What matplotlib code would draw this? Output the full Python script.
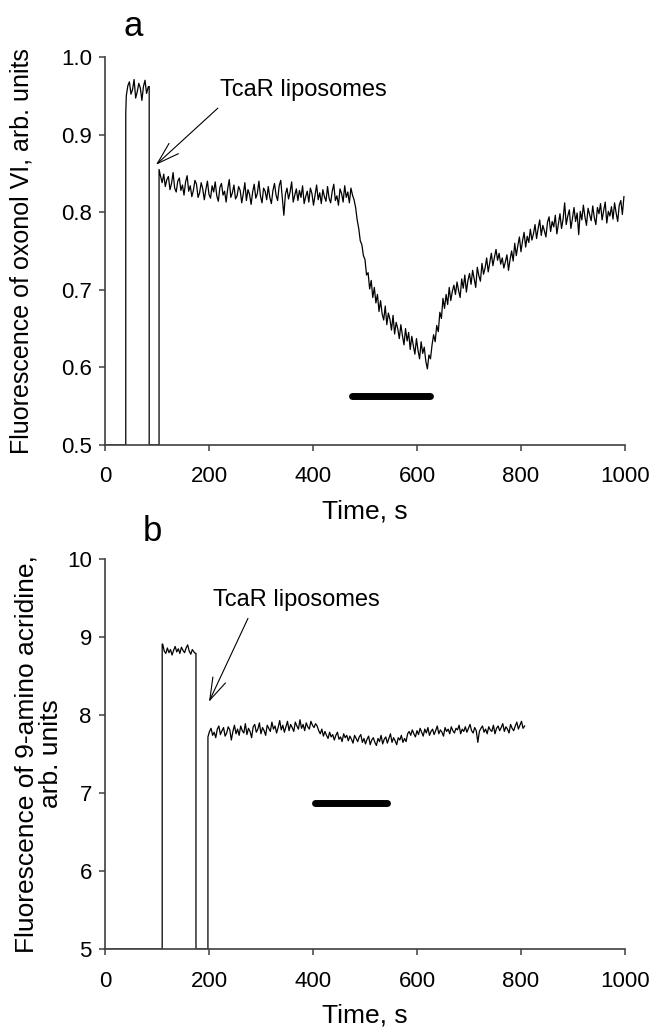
import numpy as np
import matplotlib
matplotlib.use("Agg")
import matplotlib.pyplot as plt

plt.rcParams['font.family'] = ['Liberation Sans', 'DejaVu Sans']

# ---- panel a: oxonol VI ----
# first (pre-liposome) block, sampled every 3 s from 41 s
block_a_start, block_a_step = 41, 3
block_a = [0.950, 0.963, 0.968, 0.952, 0.958, 0.971, 0.947, 0.955, 0.966, 0.960,
           0.944, 0.962, 0.970, 0.953, 0.961]

# main trace after liposome addition, every 3 s from 104 s
trace_a_start, trace_a_step = 104, 3
trace_a = [
    0.855, 0.846, 0.838, 0.849, 0.833, 0.842, 0.846, 0.829, 0.837, 0.851,
    0.831, 0.826, 0.840, 0.844, 0.828, 0.835, 0.822, 0.839, 0.847, 0.827,
    0.834, 0.820, 0.828, 0.841, 0.836, 0.819, 0.825, 0.838, 0.830, 0.816,
    0.829, 0.840, 0.823, 0.818, 0.834, 0.826, 0.839, 0.821, 0.814, 0.832,
    0.837, 0.822, 0.827, 0.813, 0.830, 0.842, 0.819, 0.825, 0.835, 0.817,
    0.821, 0.833, 0.828, 0.812, 0.824, 0.838, 0.815, 0.829, 0.823, 0.810,
    0.826, 0.836, 0.818, 0.824, 0.840, 0.821, 0.812, 0.831, 0.827, 0.816,
    0.833, 0.819, 0.811, 0.828, 0.837, 0.822, 0.815, 0.834, 0.841, 0.818,
    0.796, 0.823, 0.831, 0.817, 0.826, 0.839, 0.813, 0.822, 0.830, 0.815,
    0.828, 0.819, 0.834, 0.811, 0.820, 0.827, 0.813, 0.831, 0.824, 0.809,
    0.822, 0.835, 0.816, 0.825, 0.811, 0.829, 0.820, 0.814, 0.833, 0.818,
    0.812, 0.827, 0.836, 0.815, 0.821, 0.809, 0.830, 0.824, 0.813, 0.834,
    0.819, 0.826, 0.812, 0.831, 0.822, 0.816, 0.806, 0.790, 0.779, 0.763,
    0.758, 0.744, 0.739, 0.719, 0.722, 0.701, 0.712, 0.690, 0.703, 0.683,
    0.694, 0.672, 0.686, 0.669, 0.661, 0.679, 0.655, 0.670, 0.662, 0.648,
    0.667, 0.643, 0.658, 0.650, 0.637, 0.655, 0.641, 0.629, 0.650, 0.634,
    0.645, 0.623, 0.640, 0.628, 0.617, 0.637, 0.622, 0.611, 0.633, 0.618,
    0.626, 0.608, 0.598, 0.616, 0.611, 0.629, 0.642, 0.633, 0.654, 0.646,
    0.671, 0.663, 0.689, 0.676, 0.694, 0.681, 0.703, 0.686, 0.698, 0.706,
    0.694, 0.710, 0.699, 0.690, 0.714, 0.702, 0.719, 0.697, 0.712, 0.721,
    0.707, 0.725, 0.714, 0.703, 0.729, 0.718, 0.711, 0.734, 0.720, 0.728,
    0.741, 0.723, 0.735, 0.747, 0.731, 0.742, 0.752, 0.738, 0.747, 0.733,
    0.741, 0.728, 0.736, 0.745, 0.725, 0.739, 0.750, 0.737, 0.760, 0.744,
    0.757, 0.768, 0.749, 0.763, 0.774, 0.755, 0.769, 0.761, 0.778, 0.764,
    0.772, 0.784, 0.766, 0.779, 0.790, 0.770, 0.783, 0.776, 0.768, 0.787,
    0.794, 0.775, 0.788, 0.781, 0.796, 0.772, 0.785, 0.798, 0.779, 0.791,
    0.812, 0.784, 0.795, 0.803, 0.779, 0.792, 0.806, 0.788, 0.799, 0.771,
    0.801, 0.790, 0.809, 0.794, 0.783, 0.805, 0.797, 0.789, 0.808, 0.793,
    0.784, 0.806, 0.798, 0.811, 0.790, 0.802, 0.813, 0.786, 0.801, 0.795,
    0.807, 0.791, 0.812, 0.799, 0.788, 0.809, 0.815, 0.797, 0.820,
]
step_a_times = [0, 40, 40]          # baseline, rise, first point
step_a_vals = [0.5, 0.5, 0.928]
gap_a_times = [85, 85, 104]         # drop, baseline, rise
gap_a_vals = [0.962, 0.5, 0.5]
bar_a = [475, 625]
bar_a_y = 0.563

# ---- panel b: 9-amino acridine ----
block_b_start, block_b_step = 111, 3
block_b = [8.91, 8.82, 8.79, 8.86, 8.80, 8.84, 8.77, 8.83, 8.88, 8.81,
           8.85, 8.79, 8.87, 8.83, 8.80, 8.86, 8.90, 8.82, 8.78, 8.84,
           8.81, 8.79]

trace_b_start, trace_b_step = 198, 3
trace_b = [
    7.72, 7.79, 7.83, 7.74, 7.78, 7.71, 7.82, 7.86, 7.75, 7.80,
    7.84, 7.73, 7.77, 7.85, 7.81, 7.68, 7.79, 7.87, 7.76, 7.82,
    7.74, 7.86, 7.80, 7.77, 7.89, 7.75, 7.83, 7.79, 7.71, 7.85,
    7.88, 7.78, 7.82, 7.90, 7.76, 7.84, 7.80, 7.74, 7.87, 7.83,
    7.79, 7.91, 7.82, 7.86, 7.77, 7.84, 7.93, 7.81, 7.87, 7.78,
    7.85, 7.92, 7.80, 7.88, 7.84, 7.79, 7.91, 7.86, 7.82, 7.94,
    7.83, 7.88, 7.80, 7.90, 7.85, 7.82, 7.92, 7.87, 7.84, 7.89,
    7.86, 7.80, 7.76, 7.82, 7.73, 7.79, 7.74, 7.70, 7.78, 7.72,
    7.75, 7.68, 7.74, 7.78, 7.69, 7.72, 7.66, 7.76, 7.71, 7.74,
    7.67, 7.73, 7.69, 7.64, 7.74, 7.70, 7.66, 7.72, 7.75, 7.65,
    7.70, 7.63, 7.69, 7.73, 7.62, 7.68, 7.71, 7.65, 7.61, 7.70,
    7.66, 7.74, 7.63, 7.69, 7.72, 7.64, 7.70, 7.76, 7.65, 7.71,
    7.67, 7.62, 7.71, 7.68, 7.74, 7.65, 7.70, 7.66, 7.76, 7.79,
    7.74, 7.81, 7.76, 7.72, 7.80, 7.75, 7.83, 7.78, 7.73, 7.82,
    7.77, 7.84, 7.74, 7.79, 7.82, 7.75, 7.80, 7.86, 7.76, 7.81,
    7.78, 7.73, 7.84, 7.79, 7.82, 7.76, 7.85, 7.80, 7.77, 7.83,
    7.81, 7.87, 7.76, 7.82, 7.79, 7.85, 7.78, 7.83, 7.88, 7.80,
    7.77, 7.84, 7.80, 7.65, 7.79, 7.83, 7.86, 7.78, 7.82, 7.76,
    7.85, 7.81, 7.79, 7.87, 7.76, 7.83, 7.86, 7.80, 7.84, 7.89,
    7.79, 7.85, 7.82, 7.77, 7.88, 7.83, 7.80, 7.86, 7.91, 7.82,
    7.87, 7.92, 7.83, 7.86,
]
step_b_times = [0, 110, 110]
step_b_vals = [5.0, 5.0, 8.91]
gap_b_times = [175, 175, 198]
gap_b_vals = [8.79, 5.0, 5.0]
bar_b = [404, 542]
bar_b_y = 6.87

ytick_a = [0.5, 0.6, 0.7, 0.8, 0.9, 1.0]
ytick_a_labels = ['0.5', '0.6', '0.7', '0.8', '0.9', '1.0']
ytick_b = [5, 6, 7, 8, 9, 10]
xticks = [0, 200, 400, 600, 800, 1000]


def build(step_t, step_v, b_start, b_step, block, gap_t, gap_v, t_start, t_step, trace):
    bt = b_start + b_step * np.arange(len(block))
    tt = t_start + t_step * np.arange(len(trace))
    t = np.concatenate([step_t, bt, gap_t, tt])
    v = np.concatenate([step_v, block, gap_v, trace])
    return t, v


def style(ax, ylim, yticks, ylabels):
    for s in ['top', 'right']:
        ax.spines[s].set_visible(False)
    for s in ['left', 'bottom']:
        ax.spines[s].set_color('#404040')
        ax.spines[s].set_linewidth(1.2)
    ax.set_xlim(0, 1000)
    ax.set_ylim(*ylim)
    ax.set_xticks(xticks)
    ax.set_yticks(yticks)
    ax.set_yticklabels(ylabels)
    ax.tick_params(axis='both', direction='out', length=4.5, width=1.1,
                   color='#404040', labelsize=16)
    ax.tick_params(axis='x', pad=11)
    ax.tick_params(axis='y', pad=5)
    ax.set_xlabel('Time, s', fontsize=19)
    ax.xaxis.set_label_coords(0.5, -0.14)


fig = plt.figure(figsize=(6.5, 10.3), dpi=100)

ax1 = fig.add_axes([0.1615, 0.568, 0.8, 0.3767])
t, v = build(step_a_times, step_a_vals, block_a_start, block_a_step, block_a,
             gap_a_times, gap_a_vals, trace_a_start, trace_a_step, trace_a)
ax1.plot(t, v, color='black', lw=0.9)
ax1.plot(bar_a, [bar_a_y, bar_a_y], color='black', lw=5, solid_capstyle='round')
style(ax1, (0.5, 1.0), ytick_a, ytick_a_labels)
ax1.set_ylabel('Fluorescence of oxonol VI, arb. units', fontsize=18)
ax1.yaxis.set_label_coords(-0.138, 0.5)
ax1.annotate('', xy=(98, 0.861), xytext=(217, 0.934),
             arrowprops=dict(arrowstyle='->, head_length=0.8, head_width=0.25',
                             color='black', lw=0.8, shrinkA=0, shrinkB=0,
                             mutation_scale=20))
ax1.text(221, 0.957, 'TcaR liposomes', fontsize=17, ha='left', va='center')

ax2 = fig.add_axes([0.1615, 0.0786, 0.8, 0.3786])
t, v = build(step_b_times, step_b_vals, block_b_start, block_b_step, block_b,
             gap_b_times, gap_b_vals, trace_b_start, trace_b_step, trace_b)
ax2.plot(t, v, color='black', lw=0.9)
ax2.plot(bar_b, [bar_b_y, bar_b_y], color='black', lw=5, solid_capstyle='round')
style(ax2, (5, 10), ytick_b, [str(y) for y in ytick_b])
ax2.set_ylabel('Fluorescence of 9-amino acridine,\narb. units', fontsize=19,
               linespacing=1.0)
ax2.yaxis.set_label_coords(-0.081, 0.5)
ax2.annotate('', xy=(200, 8.17), xytext=(275, 9.24),
             arrowprops=dict(arrowstyle='->, head_length=0.8, head_width=0.25',
                             color='black', lw=0.8, shrinkA=0, shrinkB=0,
                             mutation_scale=20))
ax2.text(208, 9.47, 'TcaR liposomes', fontsize=17, ha='left', va='center')

fig.text(0.205, 0.974, 'a', fontsize=25, ha='center', va='center')
fig.text(0.234, 0.4835, 'b', fontsize=25, ha='center', va='center')

fig.savefig('out.png', dpi=100)
